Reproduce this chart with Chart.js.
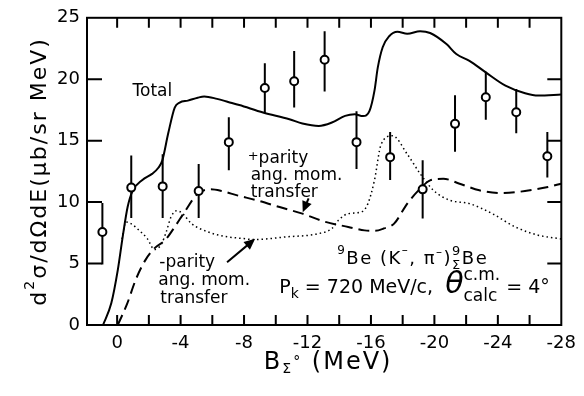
<!DOCTYPE html>
<html>
<head>
<meta charset="utf-8">
<script src="https://cdn.jsdelivr.net/npm/chart.js@4.4.1/dist/chart.umd.min.js"></script>
<style>
html,body{margin:0;padding:0;background:#fff;}
</style>
</head>
<body>
<canvas id="myChart" width="584" height="396"></canvas>
<script>
const FONT = '"DejaVu Sans", sans-serif';

// measured points: B_Sigma (MeV), d2sigma/dOmega dE (ub/sr MeV), error bar ends
const expB    = [0.93, -0.89, -2.87, -5.14, -7.04, -9.31, -11.16, -13.08, -15.09, -17.21, -19.26, -21.3, -23.24, -25.16, -27.12];
const expVal  = [7.57, 11.18, 11.28, 10.9, 14.88, 19.29, 19.83, 21.59, 14.88, 13.66, 11.04, 16.37, 18.53, 17.31, 13.74];
const expLow  = [4.93, 8.7, 8.7, 8.7, 12.6, 17.2, 17.7, 19.0, 12.7, 11.8, 8.66, 14.1, 16.7, 15.6, 12.0];
const expHigh = [9.93, 13.8, 13.9, 13.1, 16.9, 21.3, 22.3, 23.9, 17.4, 15.7, 13.4, 18.7, 20.6, 19.2, 15.7];

// calculated total
const totalB = [0.89, 0.37, -0.04, -0.35, -0.66, -0.97, -1.59, -2.2, -2.6, -2.85, -3.22, -3.63, -3.94, -4.46, -5.08, -5.49, -6.3, -7.0, -7.7, -9.2, -10.86, -11.68, -12.71, -13.54, -14.37, -14.98, -15.5, -15.91, -16.22, -16.43, -16.74, -17.15, -17.67, -18.29, -19.1, -19.73, -20.76, -21.38, -22.21, -23.24, -24.48, -25.72, -26.55, -28];
const totalY = [0, 1.76, 4.46, 7.17, 9.6, 10.9, 11.8, 12.3, 12.8, 13.4, 15.6, 17.7, 18.1, 18.26, 18.5, 18.6, 18.4, 18.15, 17.9, 17.29, 16.75, 16.4, 16.2, 16.48, 17.02, 17.15, 17.0, 17.42, 19.05, 20.94, 22.6, 23.5, 23.86, 23.7, 23.9, 23.76, 22.86, 22.05, 21.5, 20.56, 19.48, 18.86, 18.67, 18.75];

// + parity ang. mom. transfer (dashed)
const plusB = [-0.04, -0.64, -1.16, -1.78, -2.4, -3.02, -3.63, -4.25, -5.08, -5.9, -6.6, -7.57, -8.8, -10.24, -11.68, -13.13, -14.57, -15.6, -16.22, -16.8, -17.46, -18.29, -19.11, -19.73, -20.56, -21.59, -22.83, -24.27, -25.71, -27.16, -28];
const plusY = [0, 1.76, 3.65, 5.28, 6.3, 6.9, 7.98, 9.2, 10.69, 11.04, 10.9, 10.55, 10.15, 9.6, 9.06, 8.39, 7.98, 7.7, 7.66, 7.85, 8.25, 9.88, 11.1, 11.77, 11.9, 11.5, 10.96, 10.74, 10.9, 11.23, 11.5];

// - parity ang. mom. transfer (dotted)
const minusB = [-0.3, -0.56, -0.87, -1.38, -1.9, -2.35, -2.8, -3.1, -3.4, -3.75, -4.1, -4.69, -5.72, -6.75, -7.99, -8.59, -10.65, -12.71, -13.54, -13.95, -14.57, -15.4, -15.81, -16.22, -16.64, -17.36, -18.29, -19.11, -19.94, -20.97, -22.21, -23.65, -25.1, -26.54, -28];
const minusY = [7.0, 8.39, 8.25, 7.71, 7.03, 6.15, 6.6, 7.6, 8.8, 9.3, 9.1, 8.25, 7.58, 7.22, 7.03, 6.95, 7.17, 7.44, 7.85, 8.52, 9.06, 9.2, 9.88, 11.77, 14.7, 15.4, 13.9, 12.3, 10.96, 10.15, 9.88, 9.06, 7.98, 7.31, 7.0];

const xTickLabels = [0, -4, -8, -12, -16, -20, -24, -28];
const yTickLabels = [0, 5, 10, 15, 20, 25];

function toXY(xs, ys) {
    return xs.map((x, i) => ({ x: x, y: ys[i] }));
}

// write a row of text pieces (super/subscripts) left to right
function drawRuns(ctx, x, y, runs) {
    runs.forEach(r => {
        if (r.sup !== undefined) {
            ctx.font = r.size + 'px ' + FONT;
            const w = Math.max(ctx.measureText(r.sup).width, ctx.measureText(r.sub).width);
            ctx.fillText(r.sup, x, y + r.up);
            ctx.fillText(r.sub, x, y + r.down);
            x += w;
        } else {
            ctx.font = (r.style ? r.style + ' ' : '') + r.size + 'px ' + FONT;
            ctx.fillText(r.t, x, y + (r.dy || 0));
            x += ctx.measureText(r.t).width;
        }
    });
    return x;
}

function measureRuns(ctx, runs) {
    let w = 0;
    runs.forEach(r => {
        if (r.sup !== undefined) {
            ctx.font = r.size + 'px ' + FONT;
            w += Math.max(ctx.measureText(r.sup).width, ctx.measureText(r.sub).width);
        } else {
            ctx.font = (r.style ? r.style + ' ' : '') + r.size + 'px ' + FONT;
            w += ctx.measureText(r.t).width;
        }
    });
    return w;
}

function arrow(ctx, x1, y1, x2, y2) {
    const ang = Math.atan2(y2 - y1, x2 - x1);
    ctx.beginPath();
    ctx.moveTo(x1, y1);
    ctx.lineTo(x2 - 8 * Math.cos(ang), y2 - 8 * Math.sin(ang));
    ctx.stroke();
    ctx.beginPath();
    ctx.moveTo(x2, y2);
    ctx.lineTo(x2 - 11 * Math.cos(ang) + 5 * Math.sin(ang), y2 - 11 * Math.sin(ang) - 5 * Math.cos(ang));
    ctx.lineTo(x2 - 11 * Math.cos(ang) - 5 * Math.sin(ang), y2 - 11 * Math.sin(ang) + 5 * Math.cos(ang));
    ctx.closePath();
    ctx.fill();
}

const errbarPlugin = {
    id: 'errbars',
    beforeDatasetsDraw(chart) {
        const ctx = chart.ctx, xs = chart.scales.x, ys = chart.scales.y;
        ctx.save();
        ctx.strokeStyle = '#000';
        ctx.lineWidth = 2;
        ctx.beginPath();
        expB.forEach((b, i) => {
            const px = xs.getPixelForValue(b);
            ctx.moveTo(px, ys.getPixelForValue(expLow[i]));
            ctx.lineTo(px, ys.getPixelForValue(expHigh[i]));
        });
        ctx.stroke();
        ctx.restore();
    }
};

const framePlugin = {
    id: 'frame',
    afterDraw(chart) {
        const ctx = chart.ctx, a = chart.chartArea;
        const xs = chart.scales.x, ys = chart.scales.y;
        ctx.save();
        ctx.strokeStyle = '#000';
        ctx.lineWidth = 2;
        ctx.strokeRect(a.left, a.top, a.right - a.left, a.bottom - a.top);
        ctx.beginPath();
        xs.ticks.forEach(t => {
            const px = xs.getPixelForValue(t.value);
            if (px <= a.left + 2 || px >= a.right - 2) return;
            ctx.moveTo(px, a.bottom); ctx.lineTo(px, a.bottom - 10);
            ctx.moveTo(px, a.top); ctx.lineTo(px, a.top + 10);
        });
        ys.ticks.forEach(t => {
            const py = ys.getPixelForValue(t.value);
            if (py <= a.top + 2 || py >= a.bottom - 2) return;
            ctx.moveTo(a.left, py); ctx.lineTo(a.left + 15, py);
            ctx.moveTo(a.right, py); ctx.lineTo(a.right - 14, py);
        });
        ctx.stroke();
        ctx.restore();
    }
};

const notesPlugin = {
    id: 'notes',
    afterDraw(chart) {
        const ctx = chart.ctx, a = chart.chartArea;
        const xs = chart.scales.x, ys = chart.scales.y;
        const px = b => xs.getPixelForValue(b);
        const py = v => ys.getPixelForValue(v);
        ctx.save();
        ctx.fillStyle = '#000';
        ctx.strokeStyle = '#000';
        ctx.textBaseline = 'alphabetic';
        ctx.textAlign = 'left';

        drawRuns(ctx, px(-0.97), py(18.67), [{ t: 'Total', size: 17 }]);

        let x0 = px(-8.42), y0 = py(13.15);
        drawRuns(ctx, x0 - 3, y0, [{ t: '+', size: 13, dy: -3 }, { t: 'parity', size: 17 }]);
        drawRuns(ctx, x0, y0 + 17, [{ t: 'ang. mom.', size: 17 }]);
        drawRuns(ctx, x0, y0 + 34, [{ t: 'transfer', size: 17 }]);

        x0 = px(-2.66); y0 = py(4.75);
        drawRuns(ctx, x0, y0, [{ t: '-parity', size: 17 }]);
        drawRuns(ctx, x0 - 1, y0 + 18, [{ t: 'ang. mom.', size: 17 }]);
        drawRuns(ctx, x0 + 1, y0 + 36, [{ t: 'transfer', size: 17 }]);

        ctx.lineWidth = 2;
        arrow(ctx, px(-12.07), py(10.31), px(-11.7), py(9.17));
        arrow(ctx, px(-6.93), py(5.11), px(-8.7), py(7.02));

        ctx.letterSpacing = '1.5px';
        drawRuns(ctx, px(-13.87), py(4.99), [
            { t: '9', size: 12, dy: -10 },
            { t: 'Be (K', size: 18 },
            { t: '–', size: 12, dy: -10 },
            { t: ', π', size: 18 },
            { t: '–', size: 12, dy: -8 },
            { t: ')', size: 18 },
            { sup: '9', sub: 'Σ', size: 13, up: -9, down: 5 },
            { t: 'Be', size: 18 }
        ]);
        ctx.letterSpacing = '0px';

        drawRuns(ctx, px(-10.22), py(2.6), [
            { t: 'P', size: 19 },
            { t: 'k', size: 14, dy: 5 },
            { t: ' = 720 MeV/c,  ', size: 19 },
            { t: 'θ', size: 30, style: 'italic' },
            { sup: 'c.m.', sub: 'calc', size: 17, up: -13, down: 8 },
            { t: ' = 4°', size: 19 }
        ]);

        // axis titles
        const xRuns = [
            { t: 'B', size: 24 },
            { t: 'Σ', size: 14, dy: 4 },
            { t: '°', size: 14, dy: -3 },
            { t: ' (MeV)', size: 24 }
        ];
        ctx.letterSpacing = '2px';
        const wx = measureRuns(ctx, xRuns);
        drawRuns(ctx, (a.left + a.right) / 2 - wx / 2 + 4, 369, xRuns);

        const yRuns = [
            { t: 'd', size: 22 },
            { t: '2', size: 14, dy: -12 },
            { t: 'σ/dΩdE(μb/sr MeV)', size: 22 }
        ];
        const wy = measureRuns(ctx, yRuns);
        ctx.translate(46, (a.top + a.bottom) / 2);
        ctx.rotate(-Math.PI / 2);
        drawRuns(ctx, -wy / 2, 0, yRuns);
        ctx.restore();
    }
};

const ctx = document.getElementById('myChart').getContext('2d');
new Chart(ctx, {
    type: 'line',
    data: {
        datasets: [
            {
                label: 'data',
                data: toXY(expB, expVal),
                showLine: false,
                pointRadius: 4,
                pointBackgroundColor: '#fff',
                pointBorderColor: '#000',
                pointBorderWidth: 2
            },
            {
                label: 'Total',
                data: toXY(totalB, totalY),
                borderColor: '#000',
                borderWidth: 2,
                pointRadius: 0,
                cubicInterpolationMode: 'monotone',
                fill: false
            },
            {
                label: '+parity',
                data: toXY(plusB, plusY),
                borderColor: '#000',
                borderWidth: 2,
                borderDash: [11, 6],
                pointRadius: 0,
                cubicInterpolationMode: 'monotone',
                fill: false
            },
            {
                label: '-parity',
                data: toXY(minusB, minusY),
                borderColor: '#000',
                borderWidth: 1.5,
                borderDash: [1.5, 3],
                pointRadius: 0,
                cubicInterpolationMode: 'monotone',
                fill: false
            }
        ]
    },
    options: {
        responsive: false,
        animation: false,
        layout: { padding: { top: 17, right: 13, left: 0, bottom: 0 } },
        plugins: { legend: { display: false }, tooltip: { enabled: false } },
        scales: {
            x: {
                type: 'linear',
                reverse: true,
                min: -28,
                max: 1.9,
                afterFit: s => { s.height = 71; },
                grid: { display: false, drawTicks: false },
                border: { display: false },
                ticks: {
                    stepSize: 2,
                    includeBounds: false,
                    autoSkip: false,
                    maxRotation: 0,
                    padding: 8,
                    color: '#000',
                    font: { family: FONT, size: 18 },
                    callback: v => xTickLabels.indexOf(Math.round(v)) >= 0 ? String(Math.round(v)) : ''
                }
            },
            y: {
                min: 0,
                max: 25,
                afterFit: s => { s.width = 87; },
                grid: { display: false, drawTicks: false },
                border: { display: false },
                ticks: {
                    stepSize: 5,
                    padding: 7,
                    color: '#000',
                    font: { family: FONT, size: 18 },
                    callback: v => yTickLabels.indexOf(v) >= 0 ? String(v) : ''
                }
            }
        }
    },
    plugins: [errbarPlugin, framePlugin, notesPlugin]
});
</script>
</body>
</html>
